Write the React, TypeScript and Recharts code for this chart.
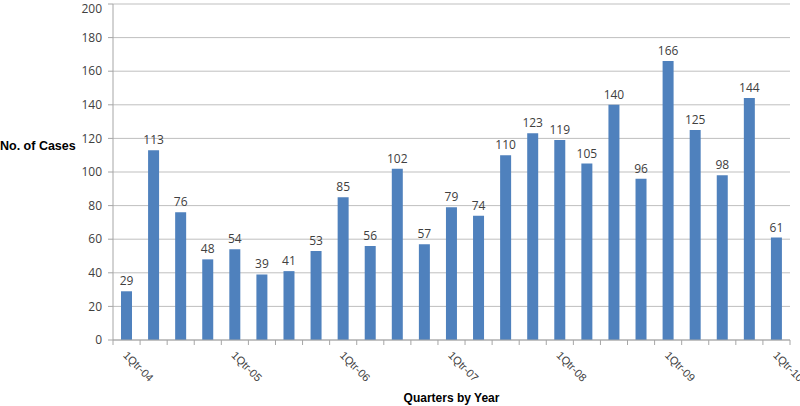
import { BarChart, Bar, XAxis, YAxis, CartesianGrid, LabelList, Label } from "recharts";

const quarters = [
  "1Qtr-04", "2Qtr-04", "3Qtr-04", "4Qtr-04",
  "1Qtr-05", "2Qtr-05", "3Qtr-05", "4Qtr-05",
  "1Qtr-06", "2Qtr-06", "3Qtr-06", "4Qtr-06",
  "1Qtr-07", "2Qtr-07", "3Qtr-07", "4Qtr-07",
  "1Qtr-08", "2Qtr-08", "3Qtr-08", "4Qtr-08",
  "1Qtr-09", "2Qtr-09", "3Qtr-09", "4Qtr-09",
  "1Qtr-10",
];
const cases = [29, 113, 76, 48, 54, 39, 41, 53, 85, 56, 102, 57, 79, 74, 110, 123, 119, 105, 140, 96, 166, 125, 98, 144, 61];
const yTicks = [0, 20, 40, 60, 80, 100, 120, 140, 160, 180, 200];

const data = quarters.map((q, i) => ({ quarter: q, cases: cases[i] }));

const FONT = "'Open Sans', 'Noto Sans', sans-serif";
const AXIS = "#a6a6a6";

function QuarterTick(props: any) {
  const { x, y, payload, index } = props;
  const band = 677 / quarters.length;
  const left = x - band / 2;
  const isLast = index === quarters.length - 1;
  const tx = x - 4;
  const ty = y + 8;
  return (
    <g>
      <line x1={left} y1={y - 8} x2={left} y2={y - 3} stroke={AXIS} />
      {isLast && <line x1={x + band / 2} y1={y - 8} x2={x + band / 2} y2={y - 3} stroke={AXIS} />}
      {payload.value.startsWith("1Qtr") && (
        <text
          x={tx}
          y={ty}
          transform={`rotate(45, ${tx}, ${ty})`}
          textAnchor="start"
          fontSize={11}
          fontFamily="'Liberation Sans', Arial, sans-serif"
          fill="#404040"
        >
          {payload.value}
        </text>
      )}
    </g>
  );
}

export default function App() {
  return (
    <div style={{ position: "absolute", left: 0, top: 0, background: "#fff" }}>
      <BarChart width={800} height={406} data={data} margin={{ top: 4, right: 10, bottom: 0, left: 0 }} barCategoryGap={0}>
        <CartesianGrid horizontal vertical={false} stroke="#bfbfbf" />
        <XAxis
          dataKey="quarter"
          interval={0}
          tickLine={false}
          stroke={AXIS}
          height={66}
          tick={<QuarterTick />}
        >
          <Label
            value="Quarters by Year"
            position="insideBottom"
            offset={4}
            style={{ fontFamily: "'Liberation Sans', Arial, sans-serif", fontWeight: "bold", fontSize: 12, fill: "#000" }}
          />
        </XAxis>
        <YAxis
          domain={[0, 200]}
          ticks={yTicks}
          width={113}
          stroke={AXIS}
          tickSize={5}
          tickMargin={6}
          tick={{ fontSize: 12, fontFamily: FONT, fill: "#404040" }}
        >
          <Label
            value="No. of Cases"
            position="insideLeft"
            offset={0}
            dy={-26}
            style={{ fontFamily: "'Liberation Sans', Arial, sans-serif", fontWeight: "bold", fontSize: 12.5, fill: "#000", textAnchor: "start" }}
          />
        </YAxis>
        <Bar dataKey="cases" fill="#4f81bd" barSize={11} isAnimationActive={false}>
          <LabelList dataKey="cases" position="top" offset={6} style={{ fontSize: 12, fontFamily: FONT, fill: "#404040" }} />
        </Bar>
      </BarChart>
    </div>
  );
}
